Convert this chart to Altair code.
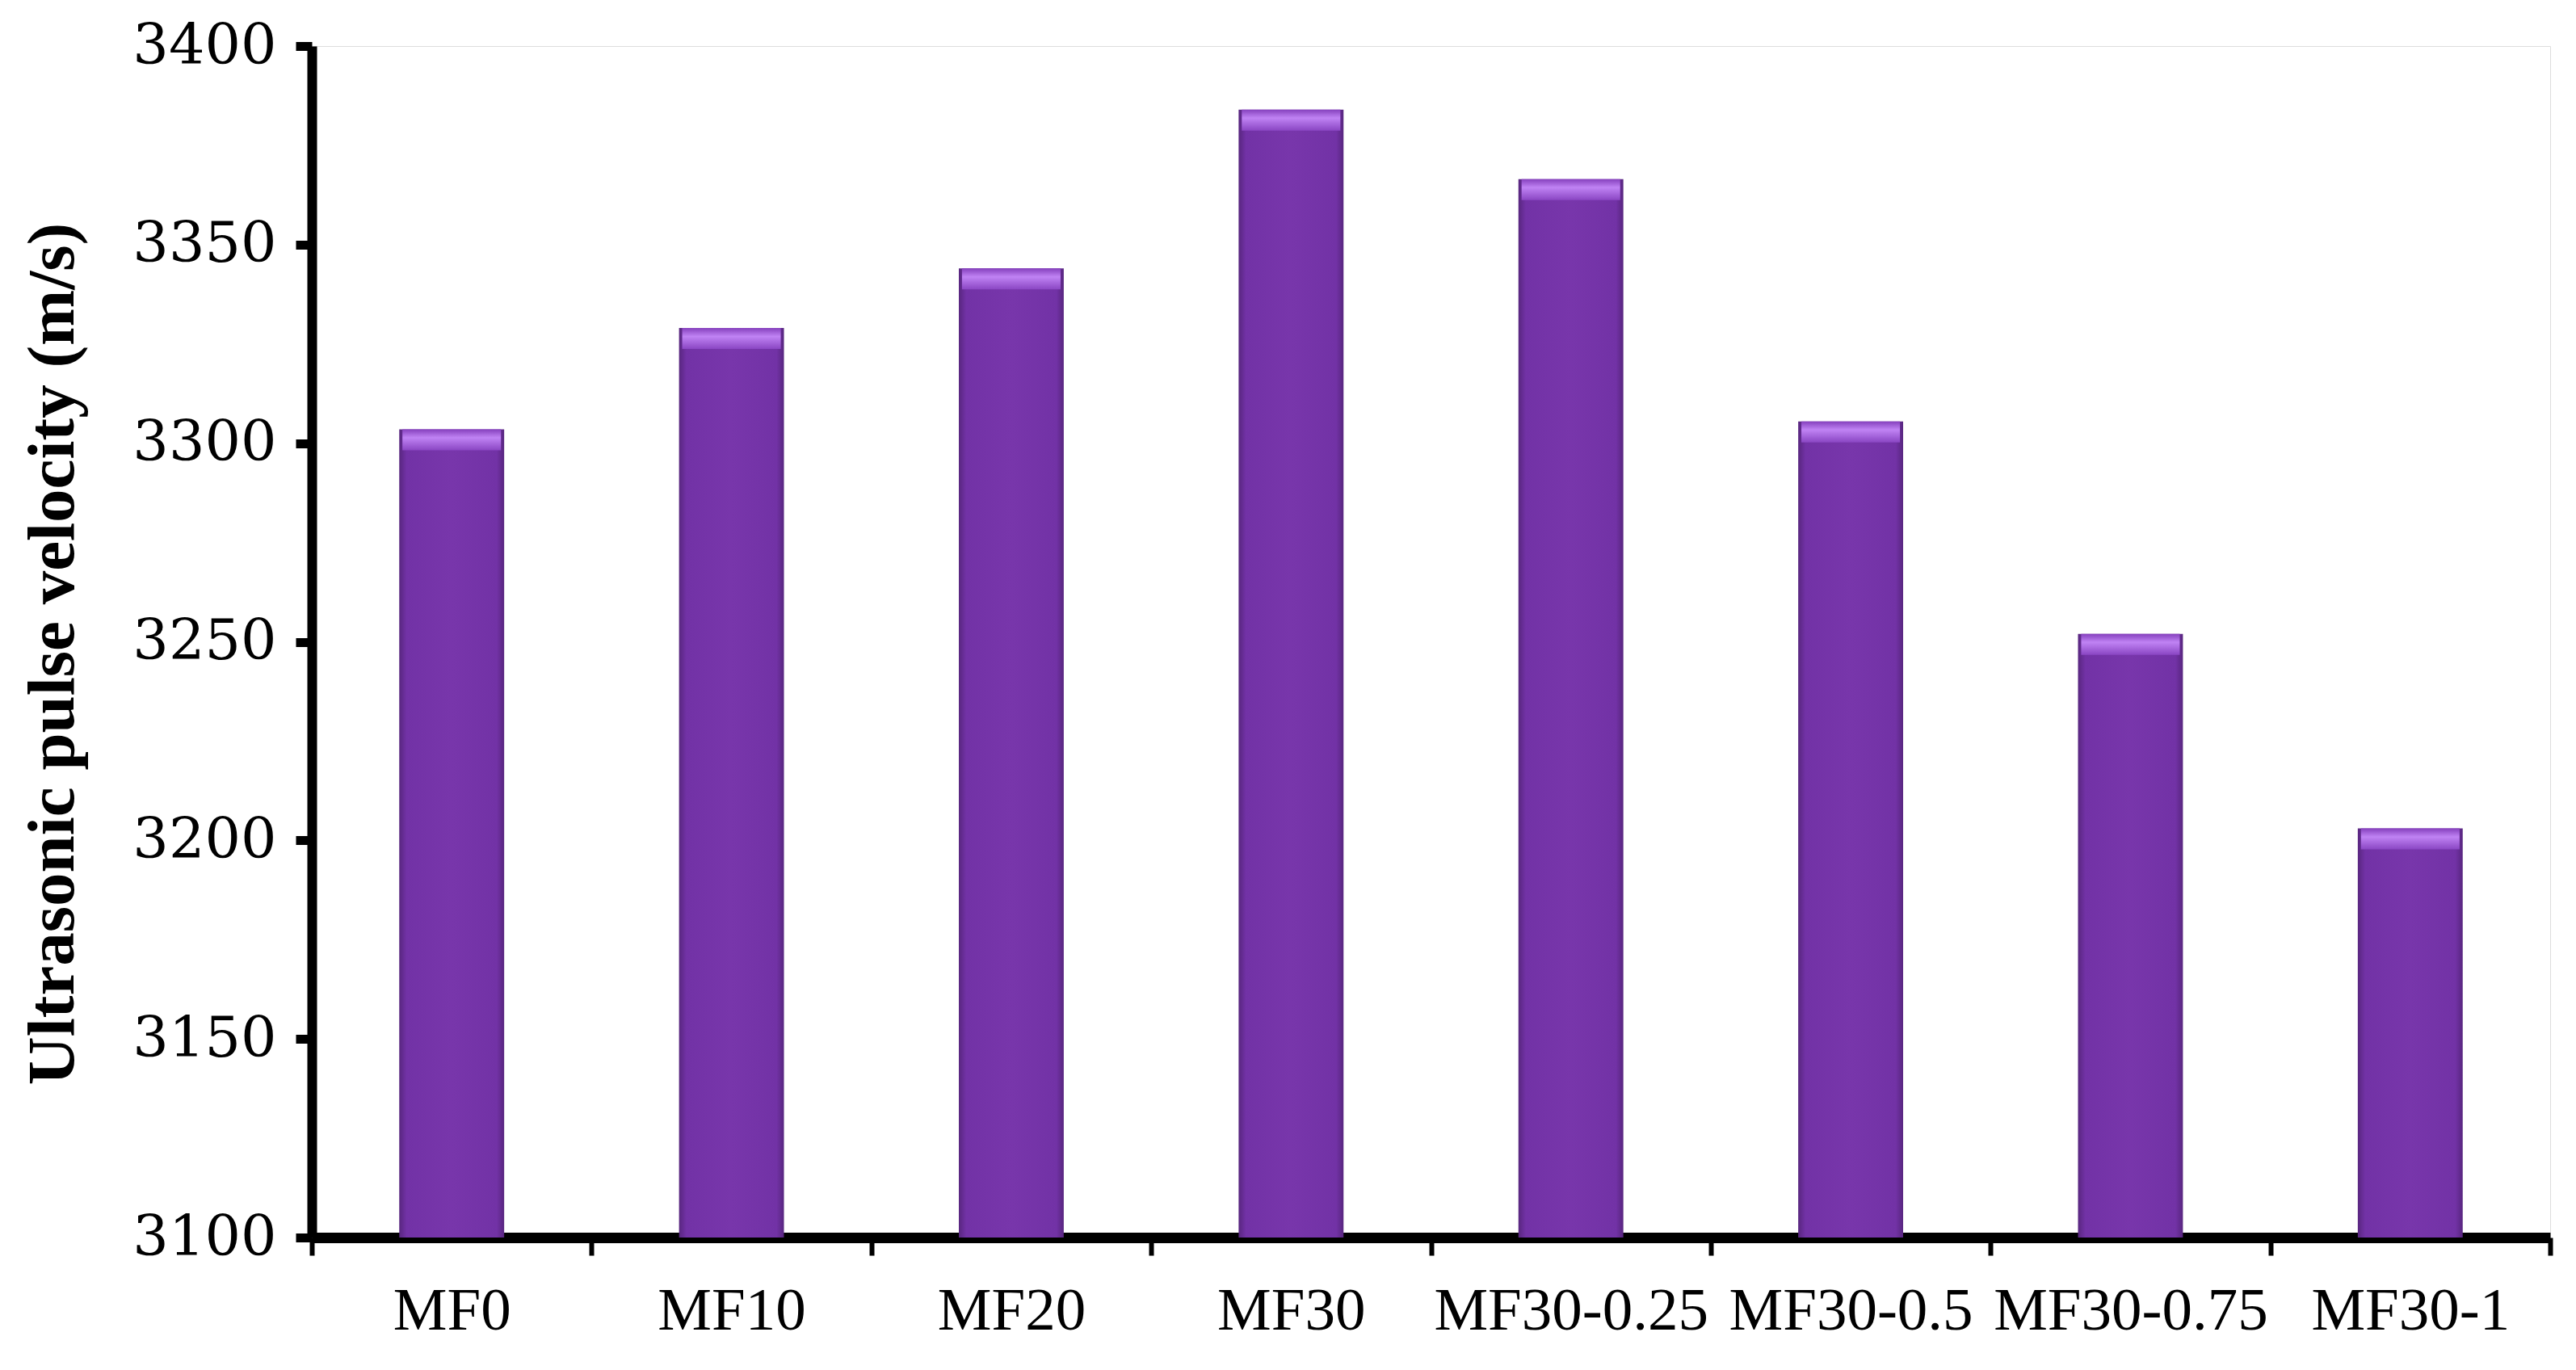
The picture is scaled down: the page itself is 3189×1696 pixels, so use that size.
import altair as alt
import pandas as pd

categories = ["MF0", "MF10", "MF20", "MF30", "MF30-0.25", "MF30-0.5", "MF30-0.75", "MF30-1"]
velocity = [3303.5, 3329, 3344, 3384, 3366.5, 3305.5, 3252, 3203]
y_ticks = [3100, 3150, 3200, 3250, 3300, 3350, 3400]

df = pd.DataFrame({"mix": categories, "upv": velocity})

side_grad = alt.Gradient(
    gradient="linear", x1=0, x2=1, y1=0, y2=0,
    stops=[
        alt.GradientStop(offset=0, color="#58267f"),
        alt.GradientStop(offset=0.07, color="#7232a6"),
        alt.GradientStop(offset=0.5, color="#7836ab"),
        alt.GradientStop(offset=0.93, color="#7232a6"),
        alt.GradientStop(offset=1, color="#58267f"),
    ],
)
top_grad = alt.Gradient(
    gradient="linear", x1=0, x2=0, y1=0, y2=1,
    stops=[
        alt.GradientStop(offset=0, color="#8540bd"),
        alt.GradientStop(offset=0.4, color="#c083f4"),
        alt.GradientStop(offset=1, color="#8a46c3"),
    ],
)

x_enc = alt.X(
    "mix:N", sort=categories, title=None,
    scale=alt.Scale(paddingInner=0, paddingOuter=0),
    axis=alt.Axis(
        tickBand="extent", labelAngle=0, labelFont="Liberation Serif",
        labelFontSize=75, labelColor="black", labelPadding=32,
        domainColor="black", domainWidth=13, tickColor="black",
        tickWidth=6, tickSize=22, labelOverlap=False, labelLimit=0,
    ),
)
y_scale = alt.Scale(domain=[3100, 3400], nice=False, zero=False)

bars = alt.Chart(df).mark_bar(
    width=alt.RelativeBandSize(0.375), color=side_grad, clip=True
).encode(
    x=x_enc,
    y=alt.Y(
        "upv:Q", scale=y_scale,
        title="Ultrasonic pulse velocity (m/s)",
        axis=alt.Axis(
            values=y_ticks, format="d", grid=False,
            labelFont="DejaVu Serif", labelFontSize=70, labelColor="black",
            labelPadding=24, domainColor="black", domainWidth=12,
            tickColor="black", tickWidth=11, tickSize=20,
            titleFont="Liberation Serif", titleFontWeight="bold",
            titleFontSize=83, titleColor="black", titleAngle=-90,
            titleX=-321, titleY=752, titleAlign="center", titleBaseline="middle",
        ),
    ),
    y2=alt.datum(3100),
)

tops = alt.Chart(df).mark_tick(
    color=top_grad, thickness=26, size=122, yOffset=13, opacity=1
).encode(
    x=alt.X("mix:N", sort=categories),
    y=alt.Y("upv:Q", scale=y_scale),
)

chart = alt.layer(bars, tops).properties(
    width=2771, height=1475,
    autosize=alt.AutoSizeParams(type="none"),
    padding={"left": 378, "top": 49, "right": 24, "bottom": 156},
).configure_view(stroke=None).configure(background="white")

chart.save("out.html", embed_options={"renderer": "svg", "actions": False})
